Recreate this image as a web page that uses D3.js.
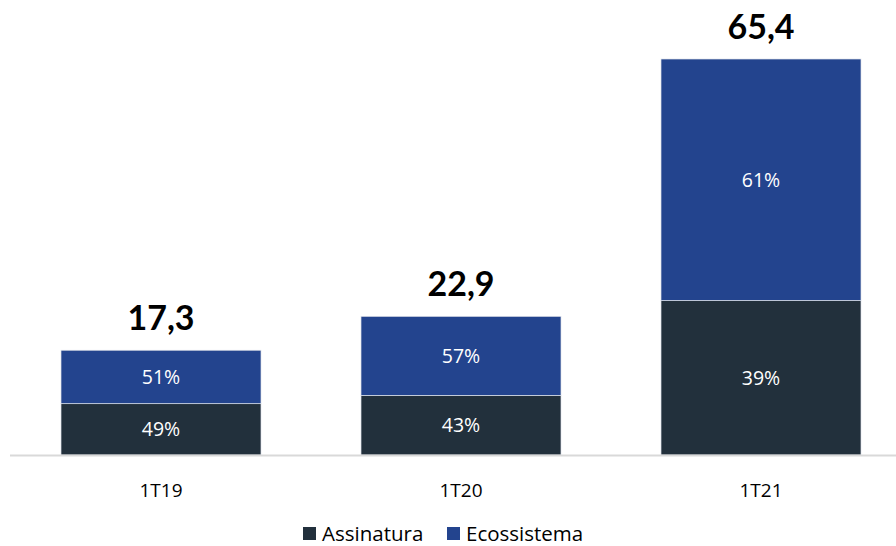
<!DOCTYPE html>
<html>
<head>
<meta charset="utf-8">
<script src="https://cdn.jsdelivr.net/npm/d3@7"></script>
<style>
  html, body { margin: 0; padding: 0; background: #fff; overflow: hidden; }
  svg { display: block; }
</style>
</head>
<body>
<svg id="chart" width="896" height="546"></svg>
<script>
// Receita por trimestre (R$ milhões) e composição por linha de negócio
const categories = ["1T19", "1T20", "1T21"];
const totals = [17.3, 22.9, 65.4];
const totalLabels = ["17,3", "22,9", "65,4"];
const assinaturaPct = [49, 43, 39];
const ecossistemaPct = [51, 57, 61];
const seriesNames = ["Assinatura", "Ecossistema"];
const colors = { Assinatura: "#22303c", Ecossistema: "#23448e" };

const svg = d3.select("#chart");
const baseY = 455;
const sans = "'Open Sans', 'Noto Sans', sans-serif";

const x = d3.scaleBand().domain(categories).range([11, 911])
  .paddingInner(1 / 3).paddingOuter(1 / 6);
const y = d3.scaleLinear().domain([0, 65.4]).range([baseY, 59]);

// stacked segments
const rows = categories.map((c, i) => ({
  cat: c,
  total: totals[i],
  label: totalLabels[i],
  segs: [
    { name: "Assinatura", pct: assinaturaPct[i], y0: 0, y1: totals[i] * assinaturaPct[i] / 100 },
    { name: "Ecossistema", pct: ecossistemaPct[i], y0: totals[i] * assinaturaPct[i] / 100, y1: totals[i] }
  ]
}));

const g = svg.append("g");

const barG = g.selectAll("g.bar").data(rows).join("g").attr("class", "bar");

barG.selectAll("rect").data(d => d.segs.map(s => ({ ...s, cat: d.cat }))).join("rect")
  .attr("x", d => x(d.cat))
  .attr("width", x.bandwidth())
  .attr("y", d => y(d.y1))
  .attr("height", d => y(d.y0) - y(d.y1))
  .attr("fill", d => colors[d.name])
  .attr("stroke", "#dfe3ea")
  .attr("stroke-width", 0.7);

barG.selectAll("text.pct").data(d => d.segs.map(s => ({ ...s, cat: d.cat }))).join("text")
  .attr("class", "pct")
  .attr("x", d => x(d.cat) + x.bandwidth() / 2)
  .attr("y", d => (y(d.y0) + y(d.y1)) / 2)
  .attr("dy", "0.35em")
  .attr("text-anchor", "middle")
  .attr("fill", "#ffffff")
  .attr("font-family", sans)
  .attr("font-size", 19.5)
  .text(d => d.pct + "%");

// totals above bars
g.selectAll("text.total").data(rows).join("text")
  .attr("class", "total")
  .attr("x", d => x(d.cat) + x.bandwidth() / 2)
  .attr("y", d => y(d.total) - 20)
  .attr("text-anchor", "middle")
  .attr("fill", "#000")
  .attr("font-family", "Lato, 'Open Sans', sans-serif")
  .attr("font-weight", "bold")
  .attr("font-size", 34)
  .text(d => d.label);

// baseline axis
const axis = d3.axisBottom(x).tickSize(0).tickPadding(0);
const axG = svg.append("g").attr("transform", `translate(0,${baseY})`).call(axis);
axG.select(".domain").remove();
axG.append("line").attr("x1", 10).attr("x2", 896).attr("y1", 0.5).attr("y2", 0.5)
  .attr("stroke", "#d9d9d9").attr("stroke-width", 2);
axG.selectAll(".tick text")
  .attr("y", 42)
  .attr("dy", 0)
  .attr("fill", "#000")
  .attr("font-family", sans)
  .attr("font-size", 19);

// legend
const legendX = [303, 447];
const lg = svg.append("g").selectAll("g").data(seriesNames).join("g")
  .attr("transform", (d, i) => `translate(${legendX[i]},527)`);
lg.append("rect").attr("width", 13).attr("height", 13).attr("fill", d => colors[d]);
lg.append("text").attr("x", 19).attr("y", 14)
  .attr("font-family", sans)
  .attr("font-size", 20.5).attr("fill", "#000")
  .text(d => d);
</script>
</body>
</html>
